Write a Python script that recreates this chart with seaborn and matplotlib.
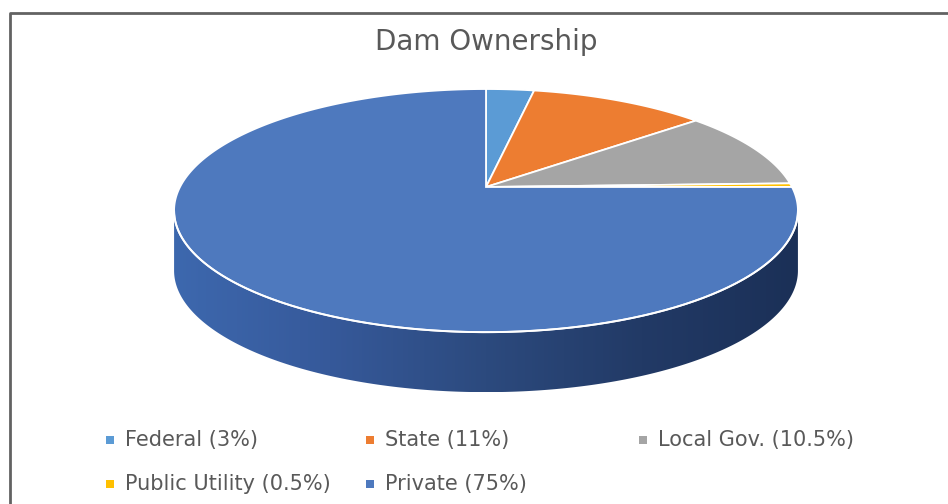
import numpy as np
import seaborn as sns
import matplotlib.pyplot as plt
from matplotlib.patches import Polygon, Rectangle
from matplotlib.colors import LinearSegmentedColormap

# Dam ownership shares (percent)
labels = ['Federal (3%)', 'State (11%)', 'Local Gov. (10.5%)',
          'Public Utility (0.5%)', 'Private (75%)']
shares = [3, 11, 10.5, 0.5, 75]
colors = ['#5B9BD5', '#ED7D31', '#A5A5A5', '#FFC000', '#4E79BE']

sns.set_theme(style='white')
plt.rcParams['font.family'] = ['DejaVu Sans']

fig = plt.figure(figsize=(9.48, 5.04), dpi=100)
ax = fig.add_axes([0, 0, 1, 1])
ax.set_xlim(0, 948)
ax.set_ylim(504, 0)
ax.axis('off')

# frame of the chart area
ax.plot([10, 10, 960], [520, 13, 13], color='#626262', lw=2, solid_capstyle='butt')

# 3D pie geometry (pixel space, slight perspective)
cx, cy = 486, 187
rx, ry, persp = 306, 117, 0.194
depth = 60


def rim(theta):
    u, v = np.cos(theta), np.sin(theta)
    s = 1.0 / (1.0 + persp * v)
    return np.column_stack([cx + rx * u * s, cy - ry * v * s])


# side wall: front part of the rim, extruded downward
t = np.linspace(0, 2 * np.pi, 1441)
pts = rim(t)
i_left = np.argmin(pts[:, 0])
i_right = np.argmax(pts[:, 0])
front_t = np.linspace(t[i_left], t[i_right], 400)
front = rim(front_t)
wall = np.vstack([front, (front + [0, depth])[::-1]])
wall_patch = Polygon(wall, closed=True, facecolor='none', edgecolor='none')
ax.add_patch(wall_patch)
grad = np.linspace(0, 1, 256)[None, :]
wall_cmap = LinearSegmentedColormap.from_list(
    'wall', ['#3D68AE', '#36599A', '#2C4A7E', '#223A66', '#1B3057'])
img = ax.imshow(grad, cmap=wall_cmap, aspect='auto',
                extent=[wall[:, 0].min(), wall[:, 0].max(),
                        wall[:, 1].max(), wall[:, 1].min()], zorder=1)
img.set_clip_path(wall_patch)
ax.set_xlim(0, 948)
ax.set_ylim(504, 0)

# top face: slices start at 12 o'clock and go clockwise
start = 90.0
for share, col in zip(shares, colors):
    sweep = share / sum(shares) * 360.0
    a = np.radians(np.linspace(start, start - sweep, max(int(sweep * 4), 4)))
    poly = np.vstack([[cx, cy], rim(a)])
    ax.add_patch(Polygon(poly, closed=True, facecolor=col, edgecolor='white',
                         lw=1.3, joinstyle='miter', zorder=3))
    start -= sweep

# white highlight along the front edge of the top
ax.plot(front[:, 0], front[:, 1], color='white', lw=1.4, zorder=4)

# title
ax.text(486, 42, 'Dam Ownership', ha='center', va='center',
        fontsize=20, color='#595959')

# legend (laid out like the Excel legend)
legend_xy = [(110, 440), (370, 440), (643, 440), (110, 484), (370, 484)]
for (lx, ly), lab, col in zip(legend_xy, labels, colors):
    ax.add_patch(Rectangle((lx - 4, ly - 4), 8, 8, facecolor=col, edgecolor='none'))
    ax.text(lx + 15, ly, lab, ha='left', va='center', fontsize=15, color='#595959')

fig.savefig('out.png', dpi=100)
